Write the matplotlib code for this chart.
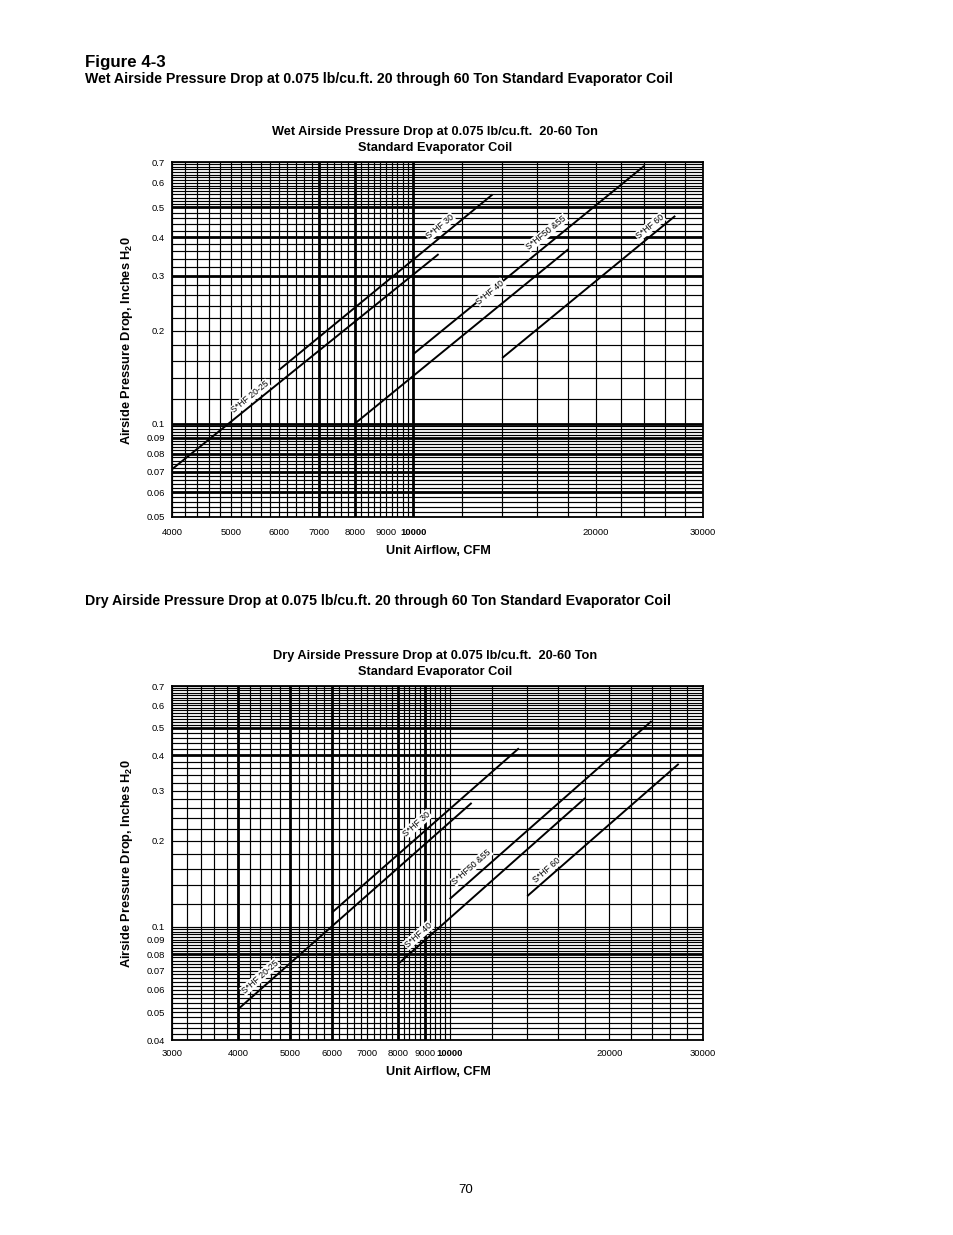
import numpy as np
import matplotlib
matplotlib.use("Agg")
import matplotlib.pyplot as plt
from matplotlib.ticker import NullLocator

plt.rcParams['font.family'] = ['Liberation Sans', 'DejaVu Sans']
plt.rcParams['mathtext.fontset'] = 'custom'
plt.rcParams['mathtext.rm'] = 'Liberation Sans:bold'
plt.rcParams['mathtext.bf'] = 'Liberation Sans:bold'

W, H = 954, 1235

# ---- data ----
names = ["S*HF 20-25", "S*HF 30", "S*HF 40", "S*HF50 &55", "S*HF 60"]

# wet coil, airflow (cfm) and pressure drop (in. H2O) at line ends
wet_cfm_start = [4000, 6000, 8000, 10000, 14000]
wet_cfm_end = [11000, 13500, 18000, 24000, 27000]
wet_dp_start = [0.0713, 0.149, 0.100, 0.168, 0.163]
wet_dp_end = [0.353, 0.550, 0.366, 0.680, 0.469]

# dry coil
dry_cfm_start = [4000, 6000, 8000, 10000, 14000]
dry_cfm_end = [11000, 13500, 18000, 24000, 27000]
dry_dp_start = [0.0514, 0.112, 0.074, 0.125, 0.128]
dry_dp_end = [0.272, 0.423, 0.283, 0.527, 0.373]

wet_xticks = [4000, 5000, 6000, 7000, 8000, 9000, 10000, 20000, 30000]
dry_xticks = [3000, 4000, 5000, 6000, 7000, 8000, 9000, 10000, 20000, 30000]
wet_yticks = [0.05, 0.06, 0.07, 0.08, 0.09, 0.1, 0.2, 0.3, 0.4, 0.5, 0.6, 0.7]
dry_yticks = [0.04, 0.05, 0.06, 0.07, 0.08, 0.09, 0.1, 0.2, 0.3, 0.4, 0.5, 0.6, 0.7]

# ---- layout: where the curve labels sit (cfm along line, px above line) ----
wet_lab_cfm = [5380, 11060, 13370, 16570, 24520]
wet_lab_dy = [9, 11, 21, 13, 10]
dry_lab_cfm = [4395, 8668, 8727, 11000, 15230]
dry_lab_dy = [13, 14, 11, 13, 9]


def px(x, y):
    return x / W, 1 - y / H


def graph_paper(lo_x, lo_y):
    vg = np.concatenate([np.arange(lo_x, 10001, 200), np.arange(12000, 30001, 2000)])
    hg = np.concatenate([np.arange(lo_y, 0.0999, 0.002), np.arange(0.1, 0.399, 0.02),
                         np.arange(0.4, 0.499, 0.02), np.arange(0.5, 0.7001, 0.0125)])
    return vg, hg


def draw_chart(top, bottom, xticks, yticks, lo_x, lo_y, vthick, hthick,
               x0, x1, y0, y1, lab_x, lab_dy, xpad, title, ylab_y, xlab_y):
    l, b = px(172, bottom)
    r, t = px(703, top)
    ax = fig.add_axes([l, b, r - l, t - b])
    ax.set_xscale('log')
    ax.set_yscale('log')
    ax.set_xlim(xticks[0], 30000)
    ax.set_ylim(yticks[0], 0.7)

    vg, hg = graph_paper(lo_x, lo_y)
    for v in vg:
        thick = np.any(np.isclose(v, vthick))
        ax.axvline(v, color='black', lw=2.0 if thick else 0.85, zorder=1)
    for h in hg:
        thick = np.any(np.isclose(h, hthick))
        ax.axhline(h, color='black', lw=2.0 if thick else 0.85, zorder=1)

    for s in ax.spines.values():
        s.set_linewidth(1.3)
        s.set_zorder(2)

    ax.set_xticks(xticks, [str(v) for v in xticks])
    ax.set_yticks(yticks, [f"{v:g}" for v in yticks])
    ax.xaxis.set_minor_locator(NullLocator())
    ax.yaxis.set_minor_locator(NullLocator())
    ax.tick_params(length=0, labelsize=6.8)
    ax.tick_params(axis='x', pad=xpad)
    ax.tick_params(axis='y', pad=5)
    for lab in ax.get_xticklabels():
        if lab.get_text() == "10000":
            lab.set_fontweight('bold')

    for i in range(len(names)):
        ax.plot([x0[i], x1[i]], [y0[i], y1[i]], color='black', lw=1.4, zorder=3,
                solid_capstyle='butt')
        f = np.log(lab_x[i] / x0[i]) / np.log(x1[i] / x0[i])
        ly = y0[i] * (y1[i] / y0[i]) ** f
        p0 = ax.transData.transform((x0[i], y0[i]))
        p1 = ax.transData.transform((x1[i], y1[i]))
        ang = np.degrees(np.arctan2(p1[1] - p0[1], p1[0] - p0[0]))
        ax.annotate(names[i], (lab_x[i], ly), xytext=(0, lab_dy[i]),
                    textcoords='offset pixels', rotation=ang, ha='center',
                    va='center', fontsize=6.3, zorder=4,
                    bbox=dict(facecolor='white', edgecolor='none', pad=0.5))

    fig.text(*px(435, top - 22), title, ha='center', va='center',
             fontsize=9.2, fontweight='bold', linespacing=1.45)
    fig.text(*px(127, ylab_y), 'Airside Pressure Drop, Inches H$_2$0',
             rotation=90, ha='center', va='center', fontsize=9.2, fontweight='bold')
    fig.text(*px(438, xlab_y), 'Unit Airflow, CFM', ha='center', va='center',
             fontsize=9.2, fontweight='bold')
    return ax


fig = plt.figure(figsize=(W / 100, H / 100), dpi=100)

fig.text(*px(85, 62), 'Figure 4-3', ha='left', va='center', fontsize=12.2,
         fontweight='bold')
fig.text(*px(85, 79), 'Wet Airside Pressure Drop at 0.075 lb/cu.ft. 20 through 60 Ton '
         'Standard Evaporator Coil', ha='left', va='center', fontsize=10.2,
         fontweight='bold')
fig.text(*px(85, 601), 'Dry Airside Pressure Drop at 0.075 lb/cu.ft. 20 through 60 Ton '
         'Standard Evaporator Coil', ha='left', va='center', fontsize=10.2,
         fontweight='bold')

draw_chart(162, 517, wet_xticks, wet_yticks, 4000, 0.05,
           [7000, 8000, 10000], [0.06, 0.07, 0.08, 0.09, 0.1, 0.3, 0.4, 0.5],
           wet_cfm_start, wet_cfm_end, wet_dp_start, wet_dp_end,
           wet_lab_cfm, wet_lab_dy, 8,
           'Wet Airside Pressure Drop at 0.075 lb/cu.ft.  20-60 Ton\nStandard Evaporator Coil',
           341, 551)

draw_chart(686, 1040, dry_xticks, dry_yticks, 3000, 0.04,
           [4000, 5000, 6000, 8000, 9000], [0.08, 0.4, 0.5],
           dry_cfm_start, dry_cfm_end, dry_dp_start, dry_dp_end,
           dry_lab_cfm, dry_lab_dy, 6.5,
           'Dry Airside Pressure Drop at 0.075 lb/cu.ft.  20-60 Ton\nStandard Evaporator Coil',
           864, 1072)

fig.text(*px(466, 1190), '70', ha='center', va='center', fontsize=9.5)

fig.savefig('out.png', dpi=100)
